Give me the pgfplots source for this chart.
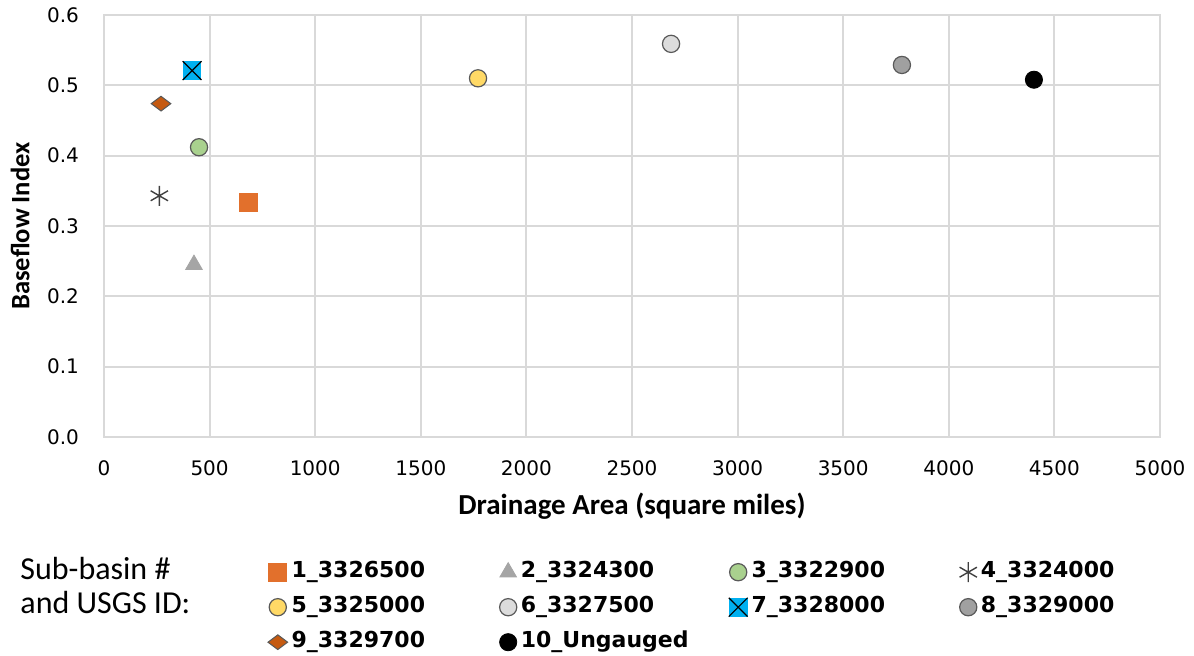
\documentclass[border=0pt]{standalone}
\usepackage{pgfplots}
\pgfplotsset{compat=1.18}
\usepackage{fontspec}
\setmainfont{DejaVu Sans}
\newfontfamily\tickfont{DejaVu Sans}
\newfontfamily\labfont{Carlito}
\newfontfamily\legfont{DejaVu Sans}
\definecolor{gridc}{HTML}{D9D9D9}
\definecolor{c1}{HTML}{E2702C}
\definecolor{c2}{HTML}{A5A5A5}
\definecolor{c3}{HTML}{A9D18E}
\definecolor{c4}{HTML}{404040}
\definecolor{c5}{HTML}{FFD966}
\definecolor{c6}{HTML}{DCDCDC}
\definecolor{c7}{HTML}{00B0F0}
\definecolor{c8}{HTML}{A0A0A0}
\definecolor{c9}{HTML}{C55A11}
\definecolor{outl}{HTML}{595959}
\pgfdeclareplotmark{squarex}{%
  \pgfpathrectangle{\pgfpoint{-\pgfplotmarksize}{-\pgfplotmarksize}}{\pgfpoint{2\pgfplotmarksize}{2\pgfplotmarksize}}%
  \pgfusepathqfill
  \pgfpathmoveto{\pgfpoint{-\pgfplotmarksize}{-\pgfplotmarksize}}%
  \pgfpathlineto{\pgfpoint{\pgfplotmarksize}{\pgfplotmarksize}}%
  \pgfpathmoveto{\pgfpoint{-\pgfplotmarksize}{\pgfplotmarksize}}%
  \pgfpathlineto{\pgfpoint{\pgfplotmarksize}{-\pgfplotmarksize}}%
  \pgfusepathqstroke}
\begin{document}
\begin{tikzpicture}
\useasboundingbox (-52pt,-109pt) rectangle (545pt,218.5pt);
\begin{axis}[
  scale only axis,
  width=528pt, height=211pt,
  at={(0pt,0pt)}, anchor=south west,
  xmin=0, xmax=5000, ymin=0, ymax=0.6,
  xtick distance=500, ytick distance=0.1,
  scaled x ticks=false, scaled y ticks=false,
  /pgf/number format/assume math mode=true,
  xticklabel style={font=\tickfont\fontsize{10}{12}\selectfont, /pgf/number format/1000 sep={}, yshift=-8.5pt},
  yticklabel style={font=\tickfont\fontsize{10}{12}\selectfont, /pgf/number format/fixed, /pgf/number format/fixed zerofill, /pgf/number format/precision=1, xshift=-9pt},
  major tick length=0pt,
  tick style={draw=none},
  grid=major,
  grid style={gridc, line width=1pt},
  axis line style={gridc, line width=1pt},
  xlabel={Drainage Area (square miles)},
  ylabel={Baseflow Index},
  xlabel style={font=\labfont\bfseries\fontsize{14.5}{16}\selectfont, at={(axis description cs:0.5,-0.163)}, anchor=center},
  ylabel style={font=\labfont\bfseries\fontsize{13.3}{15}\selectfont, at={(axis description cs:-0.0795,0.5)}, anchor=center},
  clip=false,
  only marks,
  legend image code/.code={\draw[mark repeat=2,mark phase=2,#1] plot coordinates {(0pt,0pt)(5pt,0pt)(10pt,0pt)};},
  legend columns=4,
  legend cell align=left,
  legend style={draw=none, fill=none, inner sep=0pt, outer sep=0pt,
    at={(axis description cs:0.1553,-0.286)}, anchor=north west,
    font=\legfont\bfseries\fontsize{11}{13}\selectfont,
    nodes={text height=8pt, text depth=2.5pt, inner sep=2pt},
    /tikz/row sep=3pt, /tikz/column sep=0pt,
    /tikz/every even column/.append style={text width=102pt}},
]
\addplot[only marks, mark=square*, mark size=4.5pt, mark options={fill=c1, draw=c1, solid}] coordinates {(682,0.333)};
\addlegendentry{1\_3326500}
\addplot[only marks, mark=triangle*, mark size=4.8pt, mark options={fill=c2, draw=c2, solid}] coordinates {(426,0.245)};
\addlegendentry{2\_3324300}
\addplot[only marks, mark=*, mark size=4.3pt, mark options={fill=c3, draw=outl, line width=0.6pt, solid}] coordinates {(450,0.412)};
\addlegendentry{3\_3322900}
\addplot[only marks, mark=asterisk, mark size=5pt, mark options={draw=c4, line width=0.7pt, solid}] coordinates {(262,0.343)};
\addlegendentry{4\_3324000}
\addplot[only marks, mark=*, mark size=4.3pt, mark options={fill=c5, draw=outl, line width=0.6pt, solid}] coordinates {(1771,0.510)};
\addlegendentry{5\_3325000}
\addplot[only marks, mark=*, mark size=4.3pt, mark options={fill=c6, draw=outl, line width=0.6pt, solid}] coordinates {(2685,0.559)};
\addlegendentry{6\_3327500}
\addplot[only marks, mark=squarex, mark size=4.7pt, mark options={fill=c7, draw=black, line width=0.6pt, solid}] coordinates {(417,0.521)};
\addlegendentry{7\_3328000}
\addplot[only marks, mark=*, mark size=4.3pt, mark options={fill=c8, draw=outl, line width=0.6pt, solid}] coordinates {(3778,0.529)};
\addlegendentry{8\_3329000}
\addplot[only marks, mark=diamond*, mark size=4.9pt, mark options={fill=c9, draw=outl, line width=0.5pt, rotate=90, solid}] coordinates {(270,0.474)};
\addlegendentry{9\_3329700}
\addplot[only marks, mark=*, mark size=4.3pt, mark options={fill=black, draw=black, solid}] coordinates {(4403,0.508)};
\addlegendentry{10\_Ungauged}
\node[anchor=base west, font=\labfont\fontsize{16}{18}\selectfont, inner sep=0pt] at (rel axis cs:-0.0795,-0.3365) {Sub-basin \#};
\node[anchor=base west, font=\labfont\fontsize{16}{18}\selectfont, inner sep=0pt] at (rel axis cs:-0.0795,-0.4194) {and USGS ID:};
\end{axis}
\end{tikzpicture}
\end{document}
